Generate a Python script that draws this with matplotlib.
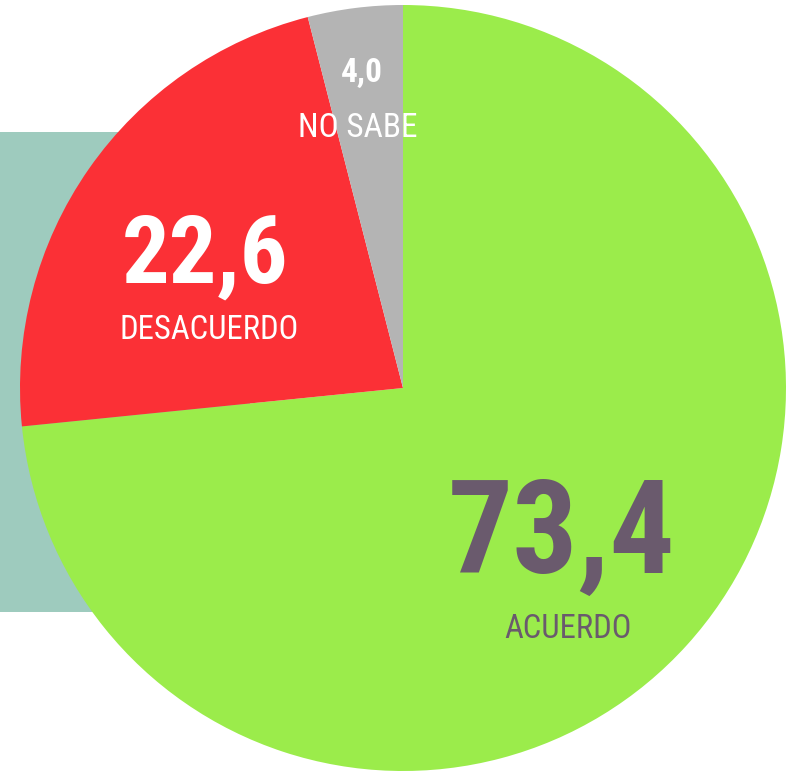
import matplotlib
matplotlib.use("Agg")
import matplotlib.pyplot as plt
from matplotlib.patches import Rectangle

categories = ["ACUERDO", "DESACUERDO", "NO SABE"]
values = [73.4, 22.6, 4.0]
value_labels = ["73,4", "22,6", "4,0"]
colors = ["#9bec4b", "#fb3036", "#b4b4b4"]

fam = ["Roboto Condensed", "DejaVu Sans"]

W, H = 795, 776
fig = plt.figure(figsize=(W / 100, H / 100), dpi=100)
ax = fig.add_axes([0, 0, 1, 1])

def Y(y):
    return H - y

ax.add_patch(Rectangle((0, Y(612)), 250, 480, facecolor="#9ecbbe", edgecolor="none", zorder=0))

ax.pie(values, colors=colors, startangle=90, counterclock=False,
       center=(403, Y(388)), radius=383, frame=True,
       wedgeprops=dict(linewidth=0, zorder=1))
ax.set_xlim(0, W)
ax.set_ylim(0, H)
ax.set_aspect("equal")
ax.axis("off")

dark = "#6a5a6d"
ax.text(562, Y(573), value_labels[0], fontsize=93, fontweight="bold", color=dark,
        ha="center", va="baseline", family=fam, zorder=3)
ax.text(568, Y(638), categories[0], fontsize=23.5, color=dark,
        ha="center", va="baseline", family=fam, zorder=3)
ax.text(205, Y(283), value_labels[1], fontsize=68, fontweight="bold", color="white",
        ha="center", va="baseline", family=fam, zorder=3)
ax.text(209, Y(339), categories[1], fontsize=23.5, color="white",
        ha="center", va="baseline", family=fam, zorder=3)
ax.text(362, Y(82), value_labels[2], fontsize=24, fontweight="bold", color="white",
        ha="center", va="baseline", family=fam, zorder=3)
ax.text(358, Y(137), categories[2], fontsize=24, color="white",
        ha="center", va="baseline", family=fam, zorder=3)

fig.savefig("out.png", dpi=100)
